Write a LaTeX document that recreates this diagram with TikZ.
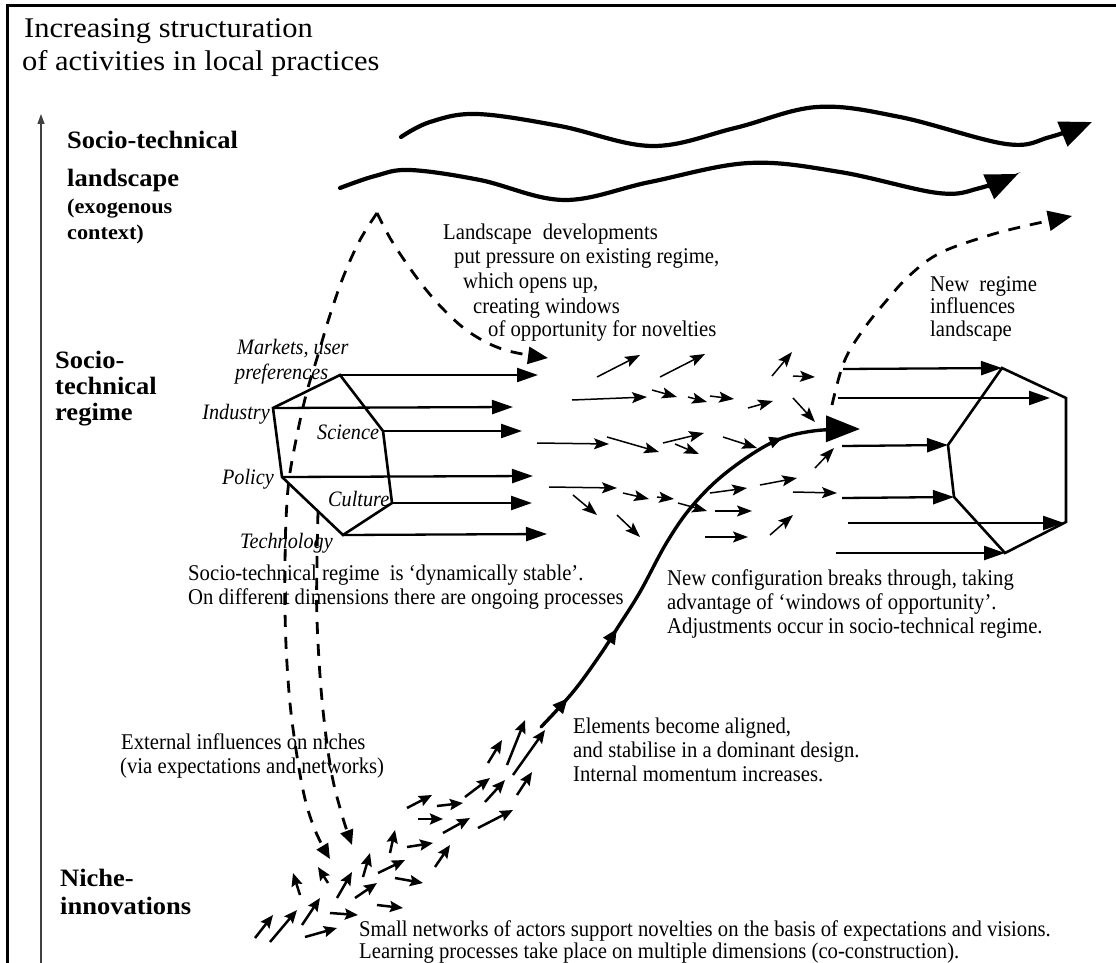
\documentclass[tikz,border=0pt]{standalone}
\usepackage{fontspec}
\setmainfont{Liberation Serif}
\newfontfamily\headfont{Liberation Serif}[FakeStretch=1.07]
\newfontfamily\levelfont{Liberation Serif}[FakeStretch=1.06]
\newfontfamily\bodyfont{Liberation Serif}[FakeStretch=0.92]
\usetikzlibrary{arrows.meta,decorations.markings}

\tikzset{
  txt/.style={anchor=base west, inner sep=0pt, font=\bodyfont\fontsize{22.5}{25}\selectfont},
  itxt/.style={anchor=base west, inner sep=0pt, font=\bodyfont\fontsize{22}{25}\selectfont\itshape},
  ltxt/.style={anchor=base east, inner sep=0pt, font=\bodyfont\fontsize{22}{25}\selectfont\itshape},
  head/.style={anchor=base west, inner sep=0pt, font=\headfont\fontsize{28.5}{32}\selectfont},
  lvl/.style={anchor=base west, inner sep=0pt, font=\levelfont\fontsize{25}{28}\selectfont\bfseries},
  lvlsmall/.style={anchor=base west, inner sep=0pt, font=\levelfont\fontsize{21}{24}\selectfont\bfseries},
  hexline/.style={line width=2.6pt, line join=miter},
  vecarrow/.style={line width=2.3pt, -{Triangle[length=21pt,width=14pt]}},
  flick/.style={line width=1.5pt, -{Stealth[length=15pt,width=11pt,inset=3pt]}},
  nicharrow/.style={line width=2.5pt, -{Stealth[length=13pt,width=11pt,inset=2pt]}},
  wave/.style={line width=4.2pt, line cap=round, -{Triangle[length=32pt,width=26pt]}},
  influence/.style={line width=2.8pt, dash pattern=on 12pt off 10pt},
  breakthrough/.style={line width=3.4pt, line cap=round},
}

\begin{document}
\begin{tikzpicture}[x=1pt,y=-1pt]
\useasboundingbox (0,0) rectangle (1116,963);

% frame and structuration axis
\draw[line width=3pt] (7,963) -- (7,6) -- (1116,6);
\draw[line width=1.1pt, black!75, -{Triangle[length=10pt,width=7pt]}] (41,963) -- (41,114);

\node[head] (h1) at (24,38) {Increasing structuration};
\node[head] (h2) at (22,71) {of activities in local practices};

% level labels
\node[lvl] (l1) at (67,148) {Socio-technical};
\node[lvl] (l2) at (67,186) {landscape};
\node[lvlsmall] (l3) at (67,213) {(exogenous};
\node[lvlsmall] (l4) at (67,239) {context)};
\node[lvl] (r1) at (55,368) {Socio-};
\node[lvl] (r2) at (55,394) {technical};
\node[lvl] (r3) at (55,420) {regime};
\node[lvl] (n1) at (60,886) {Niche-};
\node[lvl] (n2) at (60,914) {innovations};

% landscape trends
\draw[wave] plot[smooth, tension=0.6] coordinates {(401,137) (430,122) (477,114) (560,126) (652,146) (735,128) (817,107) (900,117) (1006,144) (1050,137) (1092,122)};
\draw[wave] plot[smooth, tension=0.6] coordinates {(340,188) (375,176) (410,170) (480,180) (564,200) (650,182) (749,163) (840,172) (938,193) (980,188) (1018,174)};

% existing regime
\coordinate (T) at (340,375);
\coordinate (I) at (273,408);
\coordinate (S) at (383,431);
\coordinate (P) at (282,477);
\coordinate (C) at (392,503);
\coordinate (G) at (343,535);
\draw[hexline] (I) -- (T) -- (S) -- (C) -- (G) -- (P) -- cycle;

\node[itxt] (mk1) at (237,354) {Markets, user};
\node[itxt] (mk2) at (235,379) {preferences};
\node[ltxt] (ind) at (270,419) {Industry};
\node[itxt] (sci) at (317,439) {Science};
\node[ltxt] (pol) at (274,484) {Policy};
\node[itxt] (cul) at (328,506) {Culture};
\node[itxt] (tec) at (240,548) {Technology};

\coordinate (Te) at (538,375);
\coordinate (Ie) at (513,407);
\coordinate (Se) at (522,431);
\coordinate (Pe) at (533,476);
\coordinate (Ce) at (532,503);
\coordinate (Ge) at (547,534);
\draw[vecarrow] (T) -- (Te);
\draw[vecarrow] (I) -- (Ie);
\draw[vecarrow] (S) -- (Se);
\draw[vecarrow] (P) -- (Pe);
\draw[vecarrow] (C) -- (Ce);
\draw[vecarrow] (G) -- (Ge);

% regime opening up
\foreach \xa/\ya/\xb/\yb in {
  597/377/640/355, 660/377/705/354, 772/376/792/352, 793/376/815/377,
  572/400/647/397, 652/390/677/397, 688/397/707/402, 710/396/734/399,
  748/408/773/401, 793/398/815/422,
  537/443/609/444, 607/437/659/452, 663/443/704/433, 675/444/699/454,
  723/437/757/448, 815/468/834/448,
  549/487/617/488, 623/493/649/499, 657/497/674/499, 678/503/707/511,
  710/493/747/488, 760/485/797/478, 793/492/837/493,
  573/495/597/515, 715/511/752/511, 770/535/793/515, 617/515/640/537,
  705/537/748/537}
  \draw[flick] (\xa,\ya) -- (\xb,\yb);

% new regime
\coordinate (A) at (1002,368);
\coordinate (B) at (1066,398);
\coordinate (Cr) at (1066,522);
\coordinate (D) at (1005,553);
\coordinate (E) at (954,497);
\coordinate (F) at (948,445);
\draw[hexline] (A) -- (B) -- (Cr) -- (D) -- (E) -- (F) -- cycle;
\coordinate (As) at (843,369);
\coordinate (Bs) at (838,398);
\coordinate (Fs) at (842,446);
\coordinate (Es) at (842,498);
\coordinate (Cs) at (848,523);
\coordinate (Ds) at (836,553);
\coordinate (Be) at (1050,398);
\coordinate (Ce2) at (1064,523);
\draw[vecarrow] (As) -- (A);
\draw[vecarrow] (Bs) -- (Be);
\draw[vecarrow] (Fs) -- (F);
\draw[vecarrow] (Es) -- (E);
\draw[vecarrow] (Cs) -- (Ce2);
\draw[vecarrow] (Ds) -- (D);

% niche innovations
\foreach \xa/\ya/\xb/\yb in {
  255/938/273/915, 270/942/297/910, 302/925/320/898, 305/937/337/928,
  330/913/358/915, 300/895/293/873, 328/883/318/867, 337/898/352/872,
  355/898/377/883, 363/877/370/853, 377/905/403/908, 378/873/405/860,
  395/878/423/883, 390/853/395/830, 407/847/433/843, 435/867/450/845,
  407/808/432/795, 418/819/443/819, 437/806/463/803, 443/833/470/818,
  478/828/513/810, 465/797/490/778, 485/802/505/780, 517/795/532/772,
  488/763/502/740, 507/765/525/720, 513/775/545/730}
  \draw[nicharrow] (\xa,\ya) -- (\xb,\yb);

% breakthrough trajectory
\draw[breakthrough, -{Triangle[length=34pt,width=26pt]},
  postaction={decorate},
  decoration={markings,
    mark=at position 0.085 with {\arrow{Triangle[length=15pt,width=13pt]}},
    mark=at position 0.27 with {\arrow{Triangle[length=15pt,width=13pt]}},
    mark=at position 0.83 with {\arrow{Triangle[length=13pt,width=11pt]}}}]
  plot[smooth, tension=0.6] coordinates {(541,727) (573,692) (600,655) (618,627) (640,592) (667,542) (693,505) (727,472) (773,442) (813,431) (860,429)};

% external influences
\coordinate (apex) at (377,213);
\coordinate (lan) at (548,358);
\draw[influence, -{Triangle[length=20pt,width=17pt]}] plot[smooth, tension=0.6] coordinates {(apex) (393,243) (420,282) (445,311) (472,334) (505,350) (lan)};
\draw[influence, -{Triangle[length=15pt,width=13pt]}] plot[smooth, tension=0.6] coordinates {(apex) (360,240) (344,275) (330,315) (318,355) (306,395) (296,440) (289,480) (286,520) (285,565) (285,611) (287,664) (292,721) (303,790) (315,830) (330,859)};
\draw[influence, -{Triangle[length=15pt,width=13pt]}] plot[smooth, tension=0.6] coordinates {(318,512) (317,560) (317,620) (322,700) (331,770) (342,815) (352,845)};
\draw[influence, -{Triangle[length=24pt,width=20pt]}] plot[smooth, tension=0.6] coordinates {(832,405) (844,362) (863,330) (887,300) (910,275) (940,253) (987,236) (1025,226) (1072,216)};

% explanatory texts
\node[txt] (t1) at (443,239) {Landscape\hspace{6pt} developments};
\node[txt] (t2) at (454,263) {put pressure on existing regime,};
\node[txt] (t3) at (463,288) {which opens up,};
\node[txt] (t4) at (473,313) {creating windows};
\node[txt] (t5) at (488,336) {of opportunity for novelties};

\node[txt] (w1) at (930,291) {New\hspace{5pt} regime};
\node[txt] (w2) at (930,313) {influences};
\node[txt] (w3) at (930,336) {landscape};

\node[txt] (s1) at (188,580) {Socio-technical regime\hspace{5pt} is ‘dynamically stable’.};
\node[txt] (s2) at (188,604) {On different dimensions there are ongoing processes};

\node[txt] (c1) at (667,585) {New configuration breaks through, taking};
\node[txt] (c2) at (667,609) {advantage of ‘windows of opportunity’.};
\node[txt] (c3) at (667,633) {Adjustments occur in socio-technical regime.};

\node[txt] (e1) at (573,733) {Elements become aligned,};
\node[txt] (e2) at (573,757) {and stabilise in a dominant design.};
\node[txt] (e3) at (573,781) {Internal momentum increases.};

\node[txt] (x1) at (121,749) {External influences on niches};
\node[txt] (x2) at (120,773) {(via expectations and networks)};

\node[txt] (m1) at (359,936) {Small networks of actors support novelties on the basis of expectations and visions.};
\node[txt] (m2) at (359,958) {Learning processes take place on multiple dimensions (co-construction).};
\end{tikzpicture}
\end{document}
